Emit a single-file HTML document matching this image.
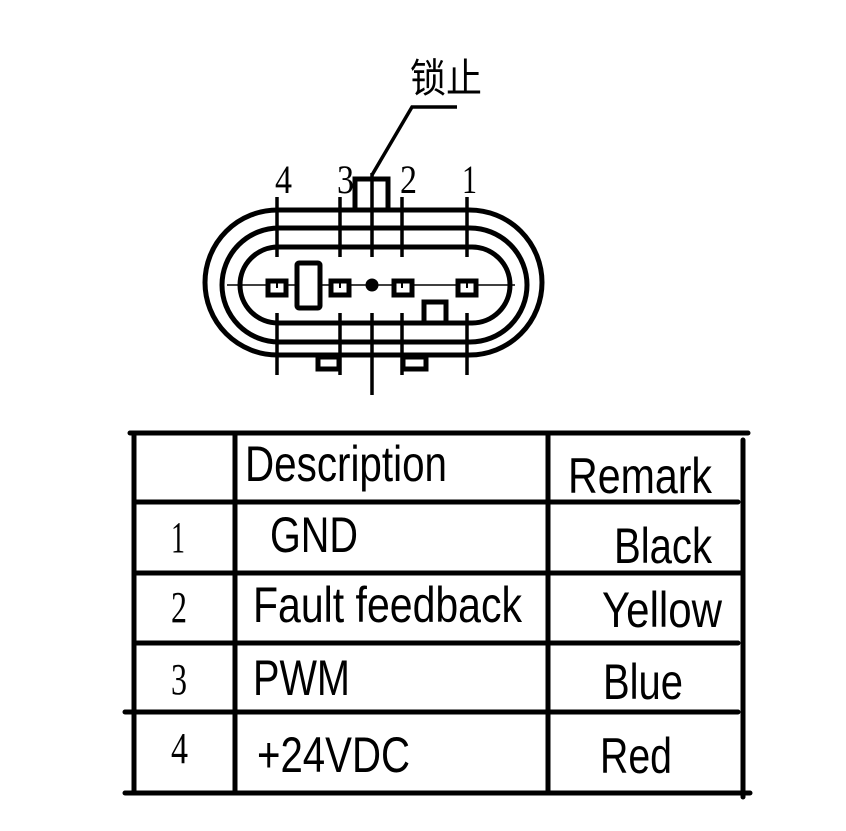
<!DOCTYPE html>
<html><head><style>html,body{margin:0;padding:0;background:#fff}svg{display:block}</style></head>
<body>
<svg width="846" height="831" viewBox="0 0 846 831" xmlns="http://www.w3.org/2000/svg">
<g fill="none" stroke="#000" stroke-width="5">
<rect x="205" y="210" width="337" height="145" rx="72.5"/>
<rect x="222" y="228" width="305" height="114" rx="57"/>
<rect x="240" y="247" width="270" height="76" rx="38"/>
</g>
<line x1="227" y1="285" x2="515" y2="285" stroke="#000" stroke-width="1.5"/>
<g stroke="#000" stroke-width="3.5">
<line x1="277" y1="197" x2="277" y2="257"/><line x1="277" y1="313" x2="277" y2="375"/>
<line x1="340" y1="197" x2="340" y2="257"/><line x1="340" y1="313" x2="340" y2="375"/>
<line x1="372" y1="173" x2="372" y2="257"/><line x1="372" y1="313" x2="372" y2="395"/>
<line x1="402" y1="197" x2="402" y2="257"/><line x1="402" y1="313" x2="402" y2="375"/>
<line x1="467" y1="197" x2="467" y2="257"/><line x1="467" y1="313" x2="467" y2="375"/>
</g>
<g fill="#fff" stroke="#000" stroke-width="5">
<rect x="355" y="179" width="33" height="31"/>
<rect x="268" y="281" width="18" height="14"/>
<rect x="331" y="281" width="18" height="14"/>
<rect x="394" y="281" width="18" height="14"/>
<rect x="458" y="281" width="18" height="14"/>
<rect x="297" y="263" width="23" height="45" rx="2"/>
<rect x="424" y="302" width="22" height="21"/>
<rect x="318" y="357" width="21" height="12"/>
<rect x="403" y="357" width="23" height="12"/>
</g>
<line x1="372" y1="179" x2="372" y2="210" stroke="#000" stroke-width="3.5"/>
<g stroke="#000" stroke-width="2"><line x1="277" y1="281" x2="277" y2="288"/><line x1="340" y1="281" x2="340" y2="288"/><line x1="402" y1="281" x2="402" y2="288"/><line x1="467" y1="281" x2="467" y2="288"/></g>
<circle cx="372" cy="285" r="6.5" fill="#000"/>
<polyline points="372,175 412,107 457,107" fill="none" stroke="#000" stroke-width="3.5"/>
<text x="410" y="92" font-family="'Noto Sans CJK SC','Liberation Serif',sans-serif" font-size="40" textLength="72" lengthAdjust="spacingAndGlyphs">锁止</text>
<g font-family="'Liberation Serif',serif" font-size="40">
<text x="275" y="193" textLength="17" lengthAdjust="spacingAndGlyphs">4</text>
<text x="337" y="193" textLength="17" lengthAdjust="spacingAndGlyphs">3</text>
<text x="400" y="193" textLength="17" lengthAdjust="spacingAndGlyphs">2</text>
<text x="462" y="193" textLength="15" lengthAdjust="spacingAndGlyphs">1</text>
</g>
<g stroke="#000" stroke-width="5" stroke-linecap="round">
<line x1="130" y1="433" x2="748" y2="433"/>
<line x1="134" y1="433" x2="134" y2="793"/>
<line x1="235" y1="433" x2="235" y2="793"/>
<line x1="548" y1="433" x2="548" y2="793"/>
<line x1="743" y1="440" x2="743" y2="797"/>
<line x1="134" y1="502" x2="738" y2="502"/>
<line x1="134" y1="573" x2="743" y2="573"/>
<line x1="134" y1="643" x2="738" y2="643"/>
<line x1="125" y1="712" x2="738" y2="712"/>
<line x1="125" y1="793" x2="750" y2="793"/>
</g>
<g font-family="'Liberation Sans',sans-serif" font-size="50">
<text x="245" y="481" textLength="202" lengthAdjust="spacingAndGlyphs">Description</text>
<text x="568" y="493" textLength="144" lengthAdjust="spacingAndGlyphs">Remark</text>
<text x="270" y="552" textLength="88" lengthAdjust="spacingAndGlyphs">GND</text>
<text x="614" y="563" textLength="98" lengthAdjust="spacingAndGlyphs">Black</text>
<text x="253" y="622" textLength="269" lengthAdjust="spacingAndGlyphs">Fault feedback</text>
<text x="602" y="627" textLength="120" lengthAdjust="spacingAndGlyphs">Yellow</text>
<text x="253" y="695" textLength="97" lengthAdjust="spacingAndGlyphs">PWM</text>
<text x="603" y="699" textLength="80" lengthAdjust="spacingAndGlyphs">Blue</text>
<text x="257" y="772" textLength="153" lengthAdjust="spacingAndGlyphs">+24VDC</text>
<text x="600" y="773" textLength="72" lengthAdjust="spacingAndGlyphs">Red</text>
</g>
<g font-family="'Liberation Serif',serif" font-size="44">
<text x="171" y="552" textLength="14" lengthAdjust="spacingAndGlyphs">1</text>
<text x="171" y="622" textLength="16" lengthAdjust="spacingAndGlyphs">2</text>
<text x="171" y="694" textLength="16" lengthAdjust="spacingAndGlyphs">3</text>
<text x="171" y="763" textLength="17" lengthAdjust="spacingAndGlyphs">4</text>
</g>
</svg>
</body></html>
